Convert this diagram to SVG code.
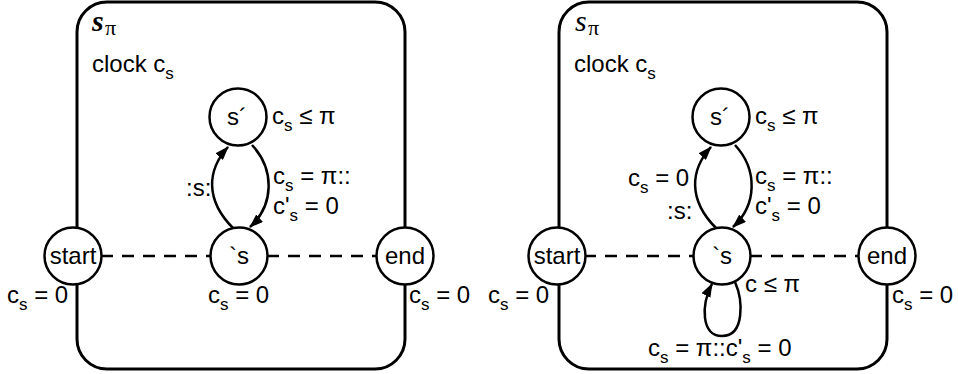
<svg xmlns="http://www.w3.org/2000/svg" width="958" height="374" viewBox="0 0 958 374">
<defs>
<style>
text{font-family:"Liberation Sans",Arial,sans-serif;font-size:24px;fill:#000}
.sub{font-size:17px}
.ttl{font-family:"Liberation Serif","Times New Roman",serif;font-style:italic;font-size:30px}
.pi{font-family:"Liberation Serif","Times New Roman",serif;font-size:22px}
.box{fill:none;stroke:#000;stroke-width:3}
.node circle{fill:#fff;stroke:#000;stroke-width:2.5}
.edge{fill:none;stroke:#000;stroke-width:2.5;marker-end:url(#ah)}
.dash{fill:none;stroke:#000;stroke-width:2.5;stroke-dasharray:12 9}
</style>
<marker id="ah" viewBox="0 0 14 10" refX="13" refY="5" markerWidth="14" markerHeight="10" markerUnits="userSpaceOnUse" orient="auto">
<path d="M0,0 L14,5 L0,10 Z" fill="#000"/>
</marker>
</defs>

<!-- Left diagram -->
<g id="box-left">
<rect class="box" x="77" y="2" width="328" height="367" rx="30" ry="30"/>
<text x="92" y="31" class="ttl" font-weight="bold">s</text><text x="105" y="35" class="pi">π</text>
<text x="92" y="72">clock c<tspan class="sub" dy="7">s</tspan></text>
</g>
<g id="connectors-left">
<line class="dash" x1="101" y1="256" x2="211" y2="256"/>
<line class="dash" x1="267" y1="256" x2="377" y2="256"/>
<path class="edge" d="M233,228 C205,200 207,170 228,147"/>
<path class="edge" d="M252,145 C275,170 274,205 250,227"/>
<text x="186" y="196">:s:</text>
<text x="273" y="184">c<tspan class="sub" dy="7">s</tspan><tspan dy="-7"> = π::</tspan></text>
<text x="273" y="214">c'<tspan class="sub" dy="7">s</tspan><tspan dy="-7"> = 0</tspan></text>
</g>
<g id="sprime-left" class="node">
<circle cx="238" cy="117" r="28.5"/>
<text x="237" y="125" text-anchor="middle">s´</text>
<text x="272" y="124">c<tspan class="sub" dy="7">s</tspan><tspan dy="-7"> ≤ π</tspan></text>
</g>
<g id="s-left" class="node">
<circle cx="239" cy="256" r="28.5"/>
<text x="239" y="264" text-anchor="middle">`s</text>
<text x="208" y="303">c<tspan class="sub" dy="7">s</tspan><tspan dy="-7"> = 0</tspan></text>
</g>
<g id="start-left" class="node">
<circle cx="73" cy="256" r="28.5"/>
<text x="73" y="264" text-anchor="middle">start</text>
<text x="7" y="303">c<tspan class="sub" dy="7">s</tspan><tspan dy="-7"> = 0</tspan></text>
</g>
<g id="end-left" class="node">
<circle cx="405" cy="256" r="28.5"/>
<text x="405" y="264" text-anchor="middle">end</text>
<text x="409" y="303">c<tspan class="sub" dy="7">s</tspan><tspan dy="-7"> = 0</tspan></text>
</g>

<!-- Right diagram -->
<g id="box-right">
<rect class="box" x="559" y="2" width="328" height="367" rx="30" ry="30"/>
<text x="575" y="31" class="ttl">s</text><text x="588" y="35" class="pi">π</text>
<text x="574" y="72">clock c<tspan class="sub" dy="7">s</tspan></text>
</g>
<g id="connectors-right">
<line class="dash" x1="584" y1="256" x2="693" y2="256"/>
<line class="dash" x1="750" y1="256" x2="859" y2="256"/>
<path class="edge" d="M716,228 C688,200 690,170 711,147"/>
<path class="edge" d="M735,145 C758,170 757,205 733,227"/>
<path class="edge" d="M735,282 C743,300 745,336 722,336 C701,336 701,305 712,284"/>
<text x="628" y="186">c<tspan class="sub" dy="7">s</tspan><tspan dy="-7"> = 0</tspan></text>
<text x="667" y="219">:s:</text>
<text x="755" y="184">c<tspan class="sub" dy="7">s</tspan><tspan dy="-7"> = π::</tspan></text>
<text x="755" y="214">c'<tspan class="sub" dy="7">s</tspan><tspan dy="-7"> = 0</tspan></text>
<text x="745" y="292">c ≤ π</text>
<text x="648" y="356">c<tspan class="sub" dy="7">s</tspan><tspan dy="-7"> = π::c'</tspan><tspan class="sub" dy="7">s</tspan><tspan dy="-7"> = 0</tspan></text>
</g>
<g id="sprime-right" class="node">
<circle cx="721" cy="117" r="28.5"/>
<text x="720" y="125" text-anchor="middle">s´</text>
<text x="755" y="124">c<tspan class="sub" dy="7">s</tspan><tspan dy="-7"> ≤ π</tspan></text>
</g>
<g id="s-right" class="node">
<circle cx="722" cy="256" r="28.5"/>
<text x="722" y="264" text-anchor="middle">`s</text>
</g>
<g id="start-right" class="node">
<circle cx="557" cy="256" r="28.5"/>
<text x="557" y="264" text-anchor="middle">start</text>
<text x="488" y="303">c<tspan class="sub" dy="7">s</tspan><tspan dy="-7"> = 0</tspan></text>
</g>
<g id="end-right" class="node">
<circle cx="887" cy="256" r="28.5"/>
<text x="887" y="264" text-anchor="middle">end</text>
<text x="892" y="303">c<tspan class="sub" dy="7">s</tspan><tspan dy="-7"> = 0</tspan></text>
</g>
</svg>
